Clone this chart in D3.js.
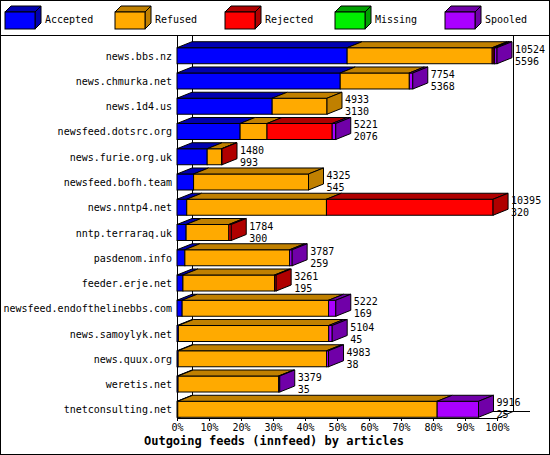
<!DOCTYPE html>
<html><head><meta charset="utf-8">
<script src="https://cdn.jsdelivr.net/npm/d3@7"></script>
<style>body{margin:0;background:#fff}text{font-family:"DejaVu Sans Mono",monospace;font-size:10px}</style>
</head><body><div id="chart"></div>
<script>
var hosts = ["news.bbs.nz","news.chmurka.net","news.1d4.us","newsfeed.dotsrc.org","news.furie.org.uk","newsfeed.bofh.team","news.nntp4.net","nntp.terraraq.uk","pasdenom.info","feeder.erje.net","newsfeed.endofthelinebbs.com","news.samoylyk.net","news.quux.org","weretis.net","tnetconsulting.net"];
var accepted = [5596,5368,3130,2076,993,545,320,300,259,195,169,45,38,35,25];
var refused  = [4770,2272,1803,884,472,3780,4595,1405,3445,3015,4816,4945,4882,3309,8531];
var rejected = [60,0,0,2144,15,0,5480,79,0,51,0,0,0,0,0];
var missing  = [20,0,0,0,0,0,0,0,0,0,0,0,0,0,0];
var spooled  = [78,114,0,117,0,0,0,0,83,0,237,114,63,35,1360];
var totals   = [10524,7754,4933,5221,1480,4325,10395,1784,3787,3261,5222,5104,4983,3379,9916];
var seriesNames = ["Accepted","Refused","Rejected","Missing","Spooled"];
var front = ["#0000ff","#ffaa00","#ff0000","#00ee00","#aa00ff"];
var dark  = ["#0000b0","#c08000","#b00000","#00a000","#7000a8"];
var ticks = [0,10,20,30,40,50,60,70,80,90,100];

var W=550,H=455, dx=15, dy=-6;
var svg = d3.select("#chart").append("svg").attr("width",W).attr("height",H);
svg.append("rect").attr("x",0.5).attr("y",0.5).attr("width",W-1).attr("height",H-1).attr("fill","#fff").attr("stroke","#000");
svg.append("line").attr("x1",0).attr("x2",W).attr("y1",35.5).attr("y2",35.5).attr("stroke","#000");

// legend
seriesNames.forEach(function(n,i){
  var lx = 5 + i*110, ly = 6, bw = 30, lh = 17, d = 6;
  svg.append("path").attr("d","M"+lx+","+(ly+d)+"l"+d+","+(-d)+"h"+bw+"l"+(-d)+","+d+"z").attr("fill",dark[i]).attr("stroke","#000");
  svg.append("path").attr("d","M"+(lx+bw)+","+(ly+d)+"l"+d+","+(-d)+"v"+lh+"l"+(-d)+","+d+"z").attr("fill",dark[i]).attr("stroke","#000");
  svg.append("rect").attr("x",lx).attr("y",ly+d).attr("width",bw).attr("height",lh).attr("fill",front[i]).attr("stroke","#000");
  svg.append("text").attr("x",lx+40).attr("y",ly+17).text(n);
});

var x = d3.scaleLinear().domain([0,d3.max(totals)]).range([177,497]);
var y = d3.scaleBand().domain(hosts).range([45,420]).paddingInner(0.35).paddingOuter(0.1);
var bh = 16;

// walls
svg.append("line").attr("x1",177.5).attr("x2",177.5).attr("y1",36).attr("y2",418).attr("stroke","#000");
svg.append("line").attr("x1",192.5).attr("x2",192.5).attr("y1",36).attr("y2",411).attr("stroke","#000");
svg.append("line").attr("x1",513.5).attr("x2",513.5).attr("y1",36).attr("y2",411).attr("stroke","#000");
svg.append("path").attr("d","M177,418.5H497L513,411.5H530M177,418.5L192,411.5H513").attr("fill","none").attr("stroke","#000");

hosts.forEach(function(h,i){
  var vals=[accepted[i],refused[i],rejected[i],missing[i],spooled[i]];
  var yc = y(h)+y.bandwidth()/2, y0 = yc-bh/2;
  var cum=0, last=0;
  vals.forEach(function(v,k){
    if(v<=0) return;
    var x0=x(cum), x1=x(cum+v); cum+=v; last=k;
    svg.append("rect").attr("x",x0).attr("y",y0).attr("width",x1-x0).attr("height",bh).attr("fill",front[k]).attr("stroke","#000");
    svg.append("path").attr("d","M"+x0+","+y0+"l"+dx+","+dy+"H"+(x1+dx)+"l"+(-dx)+","+(-dy)+"z").attr("fill",dark[k]).attr("stroke","#000");
  });
  var xe=x(cum);
  svg.append("path").attr("d","M"+xe+","+y0+"l"+dx+","+dy+"v"+bh+"l"+(-dx)+","+(-dy)+"z").attr("fill",dark[last]).attr("stroke","#000");
  svg.append("text").attr("x",172).attr("y",yc+4).attr("text-anchor","end").text(h);
  svg.append("text").attr("x",xe+dx+3).attr("y",yc-3).text(totals[i]);
  svg.append("text").attr("x",xe+dx+3).attr("y",yc+9).text(accepted[i]);
});

var pct = d3.scaleLinear().domain([0,100]).range([177,497]);
var ax = svg.append("g").attr("transform","translate(0,418)")
  .call(d3.axisBottom(pct).tickValues(ticks).tickSize(3).tickFormat(function(d){return d+"%";}));
ax.select(".domain").remove();
ax.selectAll("text").attr("font-family","DejaVu Sans Mono").attr("font-size",10).attr("fill","#000");
svg.append("text").attr("x",274).attr("y",445).attr("text-anchor","middle").style("font-weight","bold").style("font-size","12px").text("Outgoing feeds (innfeed) by articles");
</script></body></html>
